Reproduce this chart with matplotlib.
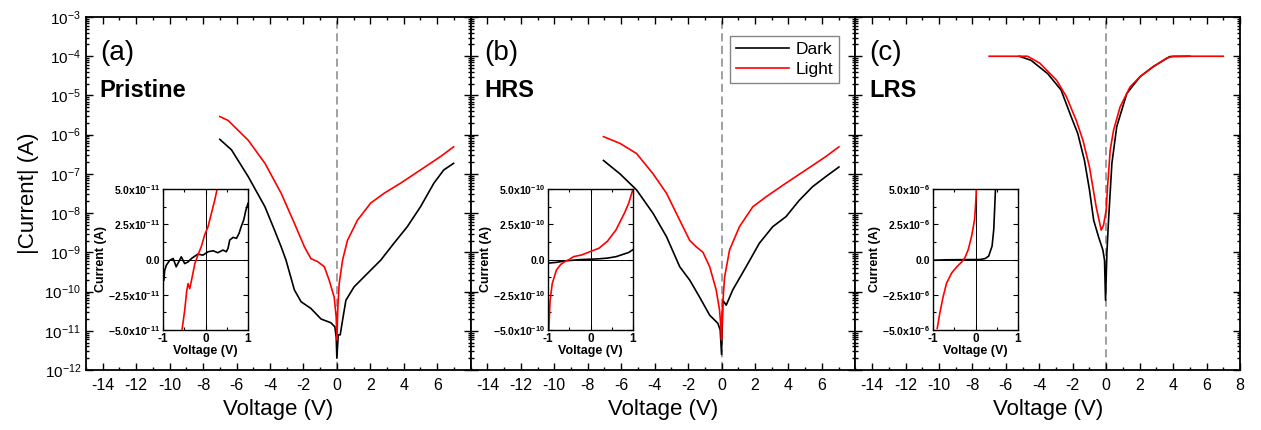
import numpy as np
import matplotlib
matplotlib.use('Agg')
import matplotlib.pyplot as plt
from matplotlib.ticker import LogLocator, MultipleLocator, NullFormatter, FixedLocator, FixedFormatter

plt.rcParams['font.family'] = ['Liberation Sans', 'DejaVu Sans']

# ---- main panels: |I| vs V (A) ----
# (a) Pristine
va_dark = [-7.0, -6.3, -5.3, -4.3, -3.73, -3.33, -3.04, -2.54, -2.14, -1.55, -0.95, -0.36, -0.12, -0.04, 0.0,
           0.08, 0.2, 0.34, 0.54, 1.03, 1.83, 2.62, 3.41, 4.21, 5.0, 5.8, 6.39, 6.98]
ia_dark = [7.6e-7, 4.1e-7, 8.5e-8, 1.45e-8, 3.7e-9, 1.38e-9, 6.3e-10, 1.1e-10, 5.5e-11, 3.7e-11, 2.0e-11, 1.6e-11,
           1.26e-11, 6.9e-12, 2.0e-12, 7.8e-12, 7.9e-12, 1.86e-11, 6.0e-11, 1.32e-10, 2.9e-10, 6.3e-10, 1.7e-9,
           4.5e-9, 1.45e-8, 5.8e-8, 1.26e-7, 1.86e-7]
va_light = [-7.0, -6.5, -5.3, -4.3, -3.33, -2.54, -1.94, -1.55, -1.15, -0.75, -0.46, -0.16, -0.04, 0.0,
            0.06, 0.14, 0.34, 0.63, 1.23, 2.02, 2.82, 3.81, 5.0, 6.19, 6.98]
ia_light = [2.9e-6, 2.3e-6, 7.2e-7, 1.86e-7, 3.2e-8, 5.5e-9, 1.38e-9, 6.9e-10, 5.8e-10, 4.3e-10, 1.95e-10, 7.2e-11,
            2.2e-11, 5.8e-12, 4.1e-11, 1.6e-10, 6.3e-10, 2.0e-9, 6.6e-9, 1.8e-8, 3.2e-8, 5.8e-8, 1.26e-7,
            2.75e-7, 4.9e-7]

# (b) HRS
vb_dark = [-7.06, -6.07, -5.08, -4.09, -3.29, -2.5, -1.9, -1.31, -0.71, -0.22, -0.08, 0.0, 0.08, 0.28, 0.67,
           1.47, 2.26, 3.06, 3.85, 4.64, 5.44, 6.23, 7.02]
ib_dark = [2.2e-7, 1.0e-7, 3.9e-8, 9.8e-9, 2.5e-9, 4.3e-10, 1.95e-10, 7.2e-11, 2.5e-11, 1.55e-11, 1.05e-11,
           2.5e-12, 6.0e-11, 4.5e-11, 1.1e-10, 4.3e-10, 1.7e-9, 4.5e-9, 8.1e-9, 2.1e-8, 4.7e-8, 8.5e-8, 1.5e-7]
vb_light = [-7.06, -6.07, -5.08, -4.09, -3.29, -2.5, -1.9, -1.51, -1.11, -0.71, -0.32, -0.12, -0.04, 0.0,
            0.06, 0.18, 0.48, 1.07, 1.87, 2.66, 3.85, 5.04, 6.23, 7.02]
ib_light = [8.9e-7, 6.0e-7, 3.3e-7, 1.0e-7, 3.2e-8, 6.6e-9, 2.0e-9, 1.38e-9, 1.0e-9, 4.3e-10, 1.1e-10, 3.4e-11,
            1.26e-11, 5.8e-12, 4.1e-11, 2.3e-10, 1.15e-9, 4.5e-9, 1.45e-8, 2.6e-8, 5.8e-8, 1.26e-7, 2.75e-7,
            4.9e-7]

# (c) LRS
vc_dark = [-5.2, -4.5, -3.5, -2.7, -2.1, -1.7, -1.3, -1.0, -0.75, -0.46, -0.2, -0.1, -0.04, 0.04, 0.14, 0.34,
           0.63, 1.23, 2.02, 2.8, 3.8, 5.0]
ic_dark = [1e-4, 7.9e-5, 3.6e-5, 1.38e-5, 2.9e-6, 1.07e-6, 2.2e-7, 3.9e-8, 6.6e-9, 2.5e-9, 1.15e-9, 6.3e-10,
           6.0e-11, 9.3e-10, 6.6e-9, 1.86e-7, 1.6e-6, 1.12e-5, 3.0e-5, 5.4e-5, 9.8e-5, 1e-4]
vc_light = [-7.0, -4.7, -3.96, -2.97, -2.38, -1.79, -1.39, -1.0, -0.6, -0.3, -0.16, 0.0, 0.08, 0.24, 0.44,
            0.83, 1.43, 2.02, 2.82, 3.61, 4.0, 7.0]
ic_light = [1e-4, 1e-4, 6.6e-5, 2.45e-5, 9.3e-6, 2.3e-6, 7.2e-7, 1.5e-7, 1.45e-8, 3.7e-9, 4.9e-9, 1.2e-8,
            4.7e-8, 4.1e-7, 1.3e-6, 5.1e-6, 1.66e-5, 3.0e-5, 5.4e-5, 8.9e-5, 1e-4, 1e-4]

# ---- insets: linear I-V near 0 V ----
va_in_dark = [-0.98, -0.96, -0.92, -0.84, -0.76, -0.69, -0.61, -0.57, -0.49, -0.41, -0.33, -0.25, -0.18, -0.06,
              0.06, 0.18, 0.29, 0.41, 0.49, 0.53, 0.57, 0.65, 0.73, 0.79, 0.84, 0.9, 0.95, 1.0]
ia_in_dark = [-1.48e-11, -0.76e-11, -0.4e-11, -0.05e-11, 0.07e-11, -0.52e-11, -0.05e-11, 0.19e-11, -0.29e-11,
              -0.17e-11, 0.07e-11, 0.24e-11, 0.38e-11, 0.31e-11, 0.55e-11, 0.62e-11, 0.48e-11, 0.67e-11,
              0.55e-11, 0.79e-11, 1.38e-11, 1.57e-11, 1.5e-11, 1.86e-11, 2.33e-11, 2.81e-11, 3.5e-11, 3.98e-11]
va_in_light = [-0.55, -0.49, -0.44, -0.41, -0.37, -0.33, -0.25, -0.18, -0.1, -0.02, 0.06, 0.14, 0.22, 0.27]
ia_in_light = [-4.93e-11, -3.62e-11, -2.19e-11, -1.71e-11, -2.07e-11, -1.48e-11, -0.29e-11, 0.31e-11, 0.9e-11,
               1.74e-11, 2.33e-11, 3.29e-11, 4.24e-11, 4.95e-11]

vb_in_dark = [-1.0, -0.8, -0.6, -0.4, -0.2, 0.0, 0.2, 0.4, 0.6, 0.8, 0.9, 1.0]
ib_in_dark = [-0.26e-10, -0.2e-10, -0.1e-10, -0.05e-10, 0.0, 0.02e-10, 0.05e-10, 0.1e-10, 0.2e-10, 0.4e-10,
              0.5e-10, 0.7e-10]
vb_in_light = [-0.98, -0.96, -0.95, -0.9, -0.8, -0.7, -0.6, -0.5, -0.4, -0.2, 0.0, 0.2, 0.4, 0.6, 0.8, 0.9, 1.0]
ib_in_light = [-5.0e-10, -3.5e-10, -2.9e-10, -1.7e-10, -0.74e-10, -0.35e-10, -0.14e-10, 0.0, 0.2e-10, 0.33e-10,
               0.57e-10, 0.8e-10, 1.3e-10, 2.1e-10, 3.3e-10, 4.0e-10, 5.0e-10]

vc_in_dark = [-1.0, -0.68, 0.11, 0.23, 0.31, 0.39, 0.43, 0.45, 0.47]
ic_in_dark = [-0.05e-6, -0.02e-6, 0.0, 0.07e-6, 0.24e-6, 0.95e-6, 2.14e-6, 3.57e-6, 5.0e-6]
vc_in_light = [-0.9, -0.84, -0.76, -0.68, -0.56, -0.44, -0.33, -0.25, -0.17, -0.09, -0.02, 0.01, 0.02]
ic_in_light = [-4.88e-6, -3.81e-6, -2.62e-6, -1.67e-6, -0.95e-6, -0.52e-6, -0.19e-6, 0.12e-6, 0.71e-6,
               1.67e-6, 2.86e-6, 4.29e-6, 5.0e-6]

panel_tags = ['(a)', '(b)', '(c)']
panel_names = ['Pristine', 'HRS', 'LRS']
inset_exp = [-11, -10, -6]

W, H = 1261, 430
fig = plt.figure(figsize=(W / 100, H / 100), dpi=100)

x0, x1, ytop, ybot = 86, 1240, 17, 370
pw = (x1 - x0) / 3
inset_left = [163, 548, 933]

main_data = [(va_dark, ia_dark, va_light, ia_light),
             (vb_dark, ib_dark, vb_light, ib_light),
             (vc_dark, ic_dark, vc_light, ic_light)]
inset_data = [(va_in_dark, ia_in_dark, va_in_light, ia_in_light),
              (vb_in_dark, ib_in_dark, vb_in_light, ib_in_light),
              (vc_in_dark, ic_in_dark, vc_in_light, ic_in_light)]

for i in range(3):
    ax = fig.add_axes([(x0 + i * pw) / W, 1 - ybot / H, pw / W, (ybot - ytop) / H])
    vd, idk, vl, il = main_data[i]
    ax.axvline(0, color='#999999', lw=1.3, ls=(0, (4.5, 2.5)), zorder=1)
    l1, = ax.plot(vd, idk, color='black', lw=1.2, label='Dark', zorder=3)
    l2, = ax.plot(vl, il, color='red', lw=1.2, label='Light', zorder=3)
    ax.set_yscale('log')
    ax.set_xlim(-15, 8)
    ax.set_ylim(1e-12, 1e-3)
    ax.yaxis.set_major_locator(LogLocator(base=10, numticks=20))
    ax.yaxis.set_minor_locator(LogLocator(base=10, subs=np.arange(2, 10), numticks=20))
    ax.yaxis.set_minor_formatter(NullFormatter())
    ax.set_xticks(np.arange(-14, 9, 2))
    labs = [str(t) if (t != 8 or i == 2) else '' for t in range(-14, 9, 2)]
    ax.set_xticklabels(labs)
    ax.xaxis.set_minor_locator(MultipleLocator(1))
    ax.tick_params(which='both', direction='in', top=True, right=True, width=1.0)
    ax.tick_params(which='major', length=5)
    ax.tick_params(which='minor', length=2.5)
    ax.tick_params(axis='x', labelsize=11.5, pad=6)
    ax.tick_params(axis='y', labelsize=11)
    for s in ax.spines.values():
        s.set_linewidth(1.3)
    if i == 0:
        ax.set_ylabel('|Current| (A)', fontsize=16, labelpad=4)
    else:
        ax.tick_params(axis='y', labelleft=False)
    ax.set_xlabel('Voltage (V)', fontsize=16, labelpad=4)
    ax.text(0.036, 0.898, panel_tags[i], transform=ax.transAxes, fontsize=20, ha='left', va='center')
    ax.text(0.036, 0.793, panel_names[i], transform=ax.transAxes, fontsize=17, fontweight='bold',
            ha='left', va='center')
    if i == 1:
        leg = ax.legend(handles=[l1, l2], loc='upper right', bbox_to_anchor=(0.958, 0.946),
                        borderaxespad=0, fontsize=12.5, fancybox=False, edgecolor='#666666',
                        handlelength=3.0, handletextpad=0.4, borderpad=0.35, labelspacing=0.25)
        leg.get_frame().set_linewidth(1.0)

    # inset
    ix = inset_left[i]
    ins = fig.add_axes([ix / W, 1 - 330 / H, 85 / W, 141 / H])
    vd, idk, vl, il = inset_data[i]
    sc = 10.0 ** inset_exp[i]
    ins.axhline(0, color='black', lw=0.7)
    ins.axvline(0, color='black', lw=0.7)
    ins.plot(vd, idk, color='black', lw=1.2)
    ins.plot(vl, il, color='red', lw=1.2)
    ins.set_xlim(-1, 1)
    ins.set_ylim(-5 * sc, 5 * sc)
    ins.set_xticks([-1, 0, 1])
    ins.set_xticklabels(['-1', '0', '1'])
    ins.xaxis.set_minor_locator(MultipleLocator(0.5))
    yt = [-5 * sc, -2.5 * sc, 0, 2.5 * sc, 5 * sc]
    ins.yaxis.set_major_locator(FixedLocator(yt))
    e = inset_exp[i]
    ylabs = [r'$\mathregular{-5.0x10^{%d}}$' % e, r'$\mathregular{-2.5x10^{%d}}$' % e, '0.0',
             r'$\mathregular{2.5x10^{%d}}$' % e, r'$\mathregular{5.0x10^{%d}}$' % e]
    ins.yaxis.set_major_formatter(FixedFormatter(ylabs))
    ins.yaxis.set_minor_locator(MultipleLocator(1.25 * sc))
    ins.tick_params(which='both', direction='in', top=True, right=True, width=0.8)
    ins.tick_params(which='major', length=3.5, pad=2)
    ins.tick_params(which='minor', length=2)
    ins.tick_params(axis='y', labelsize=7.5)
    ins.tick_params(axis='x', labelsize=8.5)
    for lab in ins.get_xticklabels() + ins.get_yticklabels():
        lab.set_fontweight('bold')
    for s in ins.spines.values():
        s.set_linewidth(1.0)
    ins.set_xlabel('Voltage (V)', fontsize=9, fontweight='bold', labelpad=0)
    ins.set_ylabel('Current (A)', fontsize=9, fontweight='bold', labelpad=1)

fig.savefig('out.png', dpi=100)
